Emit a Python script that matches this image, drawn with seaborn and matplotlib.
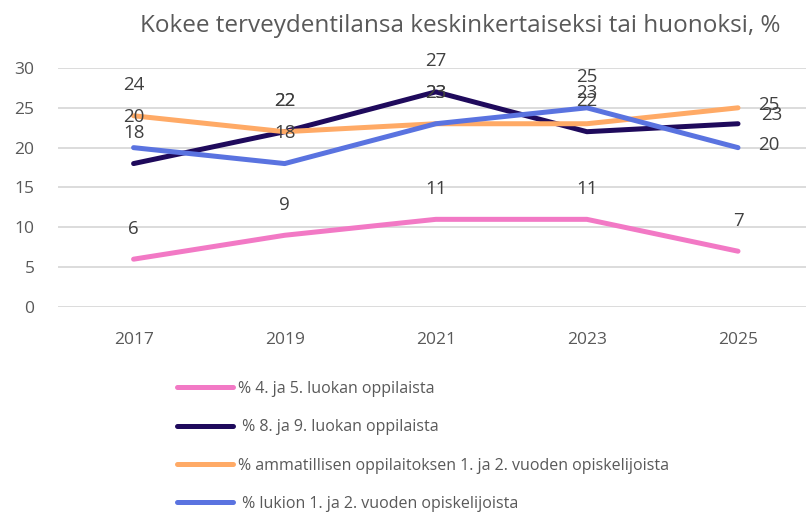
import pandas as pd
import seaborn as sns
import matplotlib.pyplot as plt

# Data
years = ["2017", "2019", "2021", "2023", "2025"]
series_names = [
    "% 4. ja 5. luokan oppilaista",
    " % 8. ja 9. luokan oppilaista",
    "% ammatillisen oppilaitoksen 1. ja 2. vuoden opiskelijoista",
    " % lukion 1. ja 2. vuoden opiskelijoista",
]
pink_vals = [6, 9, 11, 11, 7]
navy_vals = [18, 22, 27, 22, 23]
orange_vals = [24, 22, 23, 23, 25]
blue_vals = [20, 18, 23, 25, 20]

colors = ["#F279C5", "#1F0A5C", "#FFAA66", "#5A73E0"]

values = [pink_vals, navy_vals, orange_vals, blue_vals]
rows = []
for name, vals in zip(series_names, values):
    for yr, v in zip(years, vals):
        rows.append({"year": yr, "value": v, "series": name})
df = pd.DataFrame(rows)

sns.set_style("white")
plt.rcParams["font.family"] = ["Open Sans", "DejaVu Sans"]
text_col = "#595959"

fig = plt.figure(figsize=(8.06, 5.13), dpi=100)
ax = fig.add_axes([0.072, 0.4016, 0.928, 0.4659])

sns.lineplot(data=df, x="year", y="value", hue="series", palette=colors,
             linewidth=3.6, ax=ax, sort=False, legend=False)
for line in ax.get_lines():
    line.set_solid_capstyle("round")

# data labels: above the point, except some at the last year which sit to the right
for i, (name, vals) in enumerate(zip(series_names, values)):
    for j, (yr, v) in enumerate(zip(years, vals)):
        dx, dy = 0, 22
        if j == len(years) - 1 and i == 1:
            dx, dy = 24, 6
        elif j == len(years) - 1 and i in (2, 3):
            dx, dy = 22, 2
        ax.annotate(str(v), (j, v), xytext=(dx, dy), textcoords="offset points",
                    ha="center", va="center", fontsize=13.5, color="#404040")

ax.set_ylim(0, 30)
ax.set_xlim(-0.5, 4.45)
ax.set_yticks(range(0, 31, 5))
ax.yaxis.grid(True, color="#D9D9D9", linewidth=1.3)
ax.xaxis.grid(False)
for s in ax.spines.values():
    s.set_visible(False)
ax.tick_params(axis="both", length=0, labelsize=12.5, colors=text_col)
ax.tick_params(axis="x", pad=18)
ax.tick_params(axis="y", pad=17)
ax.set_xlabel("")
ax.set_ylabel("")

fig.text(0.571, 0.95, "Kokee terveydentilansa keskinkertaiseksi tai huonoksi, %",
         ha="center", va="center", fontsize=17.5, color=text_col)

handles = [plt.Line2D([], [], color=c, linewidth=3.6, solid_capstyle="round") for c in colors]
fig.legend(handles, series_names, loc="upper left", bbox_to_anchor=(0.212, 0.27),
           frameon=False, fontsize=11.5, labelcolor=text_col, handlelength=3.5,
           handletextpad=0.3, labelspacing=1.4, borderaxespad=0)

plt.savefig("out.png", dpi=100)
